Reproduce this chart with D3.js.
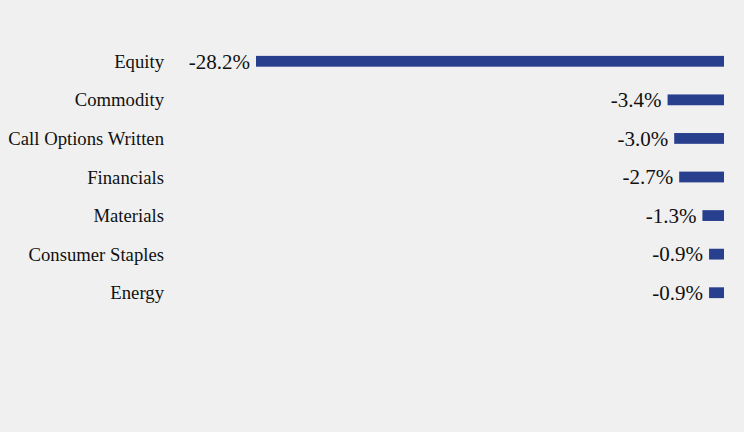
<!DOCTYPE html>
<html><head><meta charset="utf-8">
<script src="https://cdn.jsdelivr.net/npm/d3@7"></script>
<style>html,body{margin:0;padding:0;background:#f0f0f0;}svg{display:block;}</style>
</head><body>
<svg id="chart" width="744" height="432"></svg>
<script>
const categories = ["Equity","Commodity","Call Options Written","Financials","Materials","Consumer Staples","Energy"];
const values = [-28.2,-3.4,-3.0,-2.7,-1.3,-0.9,-0.9];
const labels = ["-28.2%","-3.4%","-3.0%","-2.7%","-1.3%","-0.9%","-0.9%"];

const svg = d3.select("#chart");
const x = d3.scaleLinear().domain([-28.2, 0]).range([256, 724]);
const y = d3.scaleBand().domain(categories).range([42, 312]).paddingInner(0.72).paddingOuter(0.36);

svg.append("rect").attr("width",744).attr("height",432).attr("fill","#f0f0f0");

const rows = svg.selectAll("g.row").data(categories.map((c,i)=>({c,v:values[i],l:labels[i]}))).enter().append("g");

rows.append("rect")
  .attr("x", d=>x(d.v))
  .attr("y", d=>y(d.c))
  .attr("width", d=>x(0)-x(d.v))
  .attr("height", y.bandwidth())
  .attr("fill","#283f8e");

rows.append("text")
  .attr("x", 164)
  .attr("y", d=>y(d.c)+y.bandwidth()/2)
  .attr("dy","0.35em")
  .attr("text-anchor","end")
  .attr("font-family","'Liberation Serif','Times New Roman',serif")
  .attr("font-size","18.7px")
  .attr("fill","#111")
  .text(d=>d.c);

rows.append("text")
  .attr("x", d=>x(d.v)-6)
  .attr("y", d=>y(d.c)+y.bandwidth()/2)
  .attr("dy","0.35em")
  .attr("text-anchor","end")
  .attr("font-family","'Liberation Serif','Times New Roman',serif")
  .attr("font-size","21px")
  .attr("fill","#111")
  .text(d=>d.l);
</script>
</body></html>
